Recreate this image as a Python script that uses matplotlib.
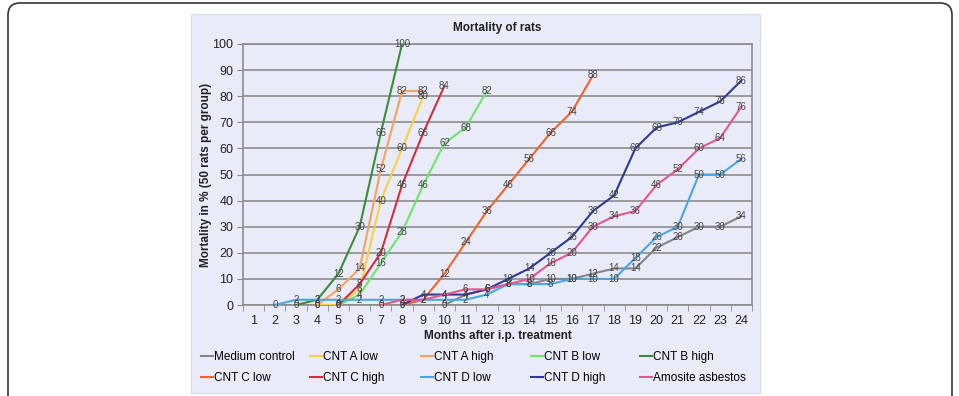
import matplotlib
matplotlib.use("Agg")
import matplotlib.pyplot as plt
from matplotlib.patches import FancyBboxPatch, Rectangle
import numpy as np

plt.rcParams['font.family'] = ['Liberation Sans', 'DejaVu Sans']

months = list(range(1, 25))
month_labels = [str(m) for m in months]

series_names = ["Medium control", "CNT A low", "CNT A high", "CNT B low", "CNT B high",
                "CNT C low", "CNT C high", "CNT D low", "CNT D high", "Amosite asbestos"]

medium_control_x = [10, 11, 12, 13, 14, 15, 16, 17, 18, 19, 20, 21, 22, 23, 24]
medium_control_y = [0, 4, 6, 8, 8, 10, 10, 12, 14, 14, 22, 26, 30, 30, 34]

cnt_a_low_x = [4, 5, 6, 7, 8, 9]
cnt_a_low_y = [0, 0, 6, 40, 60, 80]

cnt_a_high_x = [4, 5, 6, 7, 8, 9]
cnt_a_high_y = [0, 6, 14, 52, 82, 82]

cnt_b_low_x = [5, 6, 7, 8, 9, 10, 11, 12]
cnt_b_low_y = [0, 4, 16, 28, 46, 62, 68, 82]

cnt_b_high_x = [3, 4, 5, 6, 7, 8]
cnt_b_high_y = [0, 2, 12, 30, 66, 100]

cnt_c_low_x = [8, 9, 10, 11, 12, 13, 14, 15, 16, 17]
cnt_c_low_y = [0, 2, 12, 24, 36, 46, 56, 66, 74, 88]

cnt_c_high_x = [5, 6, 7, 8, 9, 10]
cnt_c_high_y = [0, 8, 20, 46, 66, 84]

cnt_d_low_x = [2, 3, 4, 5, 6, 7, 8, 9, 10, 11, 12, 13, 14, 15, 16, 17, 18, 19, 20, 21, 22, 23, 24]
cnt_d_low_y = [0, 2, 2, 2, 2, 2, 2, 2, 2, 2, 4, 8, 8, 8, 10, 10, 10, 18, 26, 30, 50, 50, 56]

cnt_d_high_x = [8, 9, 10, 11, 12, 13, 14, 15, 16, 17, 18, 19, 20, 21, 22, 23, 24]
cnt_d_high_y = [0, 4, 4, 4, 6, 10, 14, 20, 26, 36, 42, 60, 68, 70, 74, 78, 86]

amosite_x = [7, 8, 9, 10, 11, 12, 13, 14, 15, 16, 17, 18, 19, 20, 21, 22, 23, 24]
amosite_y = [0, 2, 2, 4, 6, 6, 8, 10, 16, 20, 30, 34, 36, 46, 52, 60, 64, 76]

colors = ["#858585", "#f7cf45", "#f5a260", "#6fe36f", "#3c8c3c",
          "#f06430", "#d12f3f", "#4aa6de", "#2c3a96", "#e8548c"]

data = [(medium_control_x, medium_control_y), (cnt_a_low_x, cnt_a_low_y),
        (cnt_a_high_x, cnt_a_high_y), (cnt_b_low_x, cnt_b_low_y),
        (cnt_b_high_x, cnt_b_high_y), (cnt_c_low_x, cnt_c_low_y),
        (cnt_c_high_x, cnt_c_high_y), (cnt_d_low_x, cnt_d_low_y),
        (cnt_d_high_x, cnt_d_high_y), (amosite_x, amosite_y)]

W, H = 959, 396
fig = plt.figure(figsize=(W / 100, H / 100), dpi=100)
fig.patch.set_facecolor("white")

# outer rounded frame (inch coordinates)
frame = FancyBboxPatch((0.08, -0.3), 9.44, 4.23,
                       boxstyle="round,pad=0,rounding_size=0.12",
                       transform=fig.dpi_scale_trans, facecolor="none",
                       edgecolor="#333333", linewidth=1.2, zorder=-5)
fig.patches.append(frame)

# chart panel
bg = "#e9ecf8"
panel = Rectangle((191 / W, (H - 393) / H), (760 - 191) / W, (393 - 14) / H,
                  transform=fig.transFigure, facecolor=bg,
                  edgecolor="#d6d9e6", linewidth=0.8, zorder=-4)
fig.patches.append(panel)

ax = fig.add_axes([243 / W, (H - 305) / H, (752 - 243) / W, (305 - 44) / H])
ax.set_facecolor(bg)

for (xs, ys), c, name in zip(data, colors, series_names):
    ax.plot(xs, ys, color=c, lw=1.5, label=name, zorder=3)
    for xv, yv in zip(xs, ys):
        ax.text(xv, yv, str(yv), fontsize=7, color="#454545",
                ha="center", va="center", zorder=4)

ax.set_xlim(0.5, 24.5)
ax.set_ylim(0, 100)
ax.set_yticks(range(0, 101, 10))
ax.set_xticks(months)
ax.set_xticklabels(month_labels)
ax.set_xticks(np.arange(0.5, 25, 1), minor=True)
ax.tick_params(axis="x", which="major", length=0, labelsize=9, colors="#222222", pad=7)
ax.tick_params(axis="x", which="minor", length=4, color="#8a8a8a", direction="out")
ax.tick_params(axis="y", which="major", length=4, color="#8a8a8a", labelsize=9,
               labelcolor="#222222", pad=3)
ax.yaxis.grid(True, color="#8c8c8c", lw=1.2)
ax.set_axisbelow(True)
for s in ax.spines.values():
    s.set_color("#8c8c8c")
    s.set_linewidth(1.2)

ax.set_title("Mortality of rats", fontsize=8.5, fontweight="bold", color="#222222", pad=9)
ax.set_xlabel("Months after i.p. treatment", fontsize=8.5, fontweight="bold",
              color="#222222", labelpad=2)
ax.set_ylabel("Mortality in % (50 rats per group)", fontsize=8.5, fontweight="bold",
              color="#222222", labelpad=0)

handles, labels = ax.get_legend_handles_labels()
col_x = [201, 310, 421, 531, 640]
for i, cx in enumerate(col_x):
    fig.legend([handles[i], handles[i + 5]], [labels[i], labels[i + 5]],
               ncol=1, loc="upper left",
               bbox_to_anchor=(cx / W, (H - 351) / H), frameon=False,
               fontsize=8.5, handlelength=1.0, handletextpad=0.1,
               labelspacing=0.75, borderpad=0, borderaxespad=0)

fig.savefig("out.png", dpi=100)
